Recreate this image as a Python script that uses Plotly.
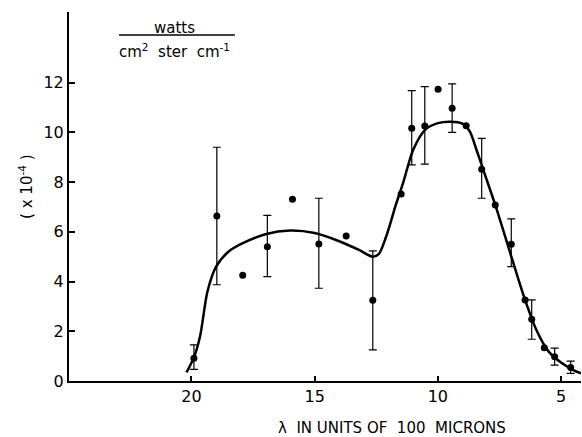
import plotly.graph_objects as go

# measured points: wavelength (x100 microns), flux (x1e-4)
wavelength = [19.9, 18.97, 17.92, 16.92, 15.9, 14.83, 13.72, 12.64, 11.49, 11.06, 10.53,
              9.99, 9.42, 8.85, 8.22, 7.67, 7.02, 6.46, 6.19, 5.68, 5.26, 4.61]
flux = [0.91, 6.64, 4.25, 5.40, 7.31, 5.51, 5.83, 3.25, 7.52, 10.16, 10.26,
        11.73, 10.97, 10.27, 8.52, 7.08, 5.50, 3.26, 2.48, 1.34, 0.98, 0.54]

# error bars (subset of points)
err_wavelength = [19.9, 18.97, 16.92, 14.83, 12.64, 11.06, 10.53, 9.42, 8.22, 7.02, 6.19, 5.26, 4.61]
err_center = [0.91, 6.64, 5.40, 5.51, 3.25, 10.16, 10.26, 10.97, 8.52, 5.50, 2.48, 0.98, 0.54]
err_top = [1.45, 9.40, 6.66, 7.35, 5.23, 11.68, 11.84, 11.95, 9.76, 6.52, 3.26, 1.32, 0.80]
err_bottom = [0.47, 3.87, 4.20, 3.73, 1.25, 8.69, 8.72, 10.00, 7.35, 4.60, 1.68, 0.64, 0.31]

# smooth fitted curve
curve_x = [20.2, 19.9, 19.65, 19.35, 19.0, 18.5, 18.0, 17.0, 16.0, 15.0, 14.0, 13.2, 12.65,
           12.4, 12.1, 11.7, 11.4, 11.0, 10.5, 10.0, 9.5, 9.0, 8.7, 8.45, 8.2, 7.67, 7.0,
           6.46, 6.0, 5.5, 5.0, 4.5, 4.19]
curve_y = [0.35, 0.95, 1.8, 3.6, 4.6, 5.2, 5.5, 5.9, 6.05, 5.95, 5.62, 5.27, 5.0,
           5.1, 5.8, 7.1, 8.0, 9.3, 10.12, 10.37, 10.43, 10.35, 10.03, 9.35, 8.62, 7.08, 4.95,
           3.26, 2.05, 1.18, 0.74, 0.44, 0.31]

x_ticks = [20, 15, 10, 5]
y_ticks = [0, 2, 4, 6, 8, 10, 12]

FONT = "DejaVu Sans"

plus = [t - c for t, c in zip(err_top, err_center)]
minus = [c - b for c, b in zip(err_center, err_bottom)]

fig = go.Figure()
fig.add_trace(go.Scatter(x=curve_x, y=curve_y, mode="lines",
                         line=dict(color="black", width=2.5, shape="spline", smoothing=0.8),
                         hoverinfo="skip"))
fig.add_trace(go.Scatter(x=err_wavelength, y=err_center, mode="markers",
                         marker=dict(size=0.1, color="black"),
                         error_y=dict(type="data", symmetric=False, array=plus, arrayminus=minus,
                                      color="black", thickness=1.2, width=4)))
fig.add_trace(go.Scatter(x=wavelength, y=flux, mode="markers",
                         marker=dict(size=7, color="black")))

fig.update_layout(
    width=582, height=437,
    margin=dict(l=69, r=1, t=12, b=56),
    paper_bgcolor="white", plot_bgcolor="white",
    showlegend=False,
    font=dict(family=FONT, color="black", size=15),
    xaxis=dict(range=[24.97, 4.19], tickvals=x_ticks, ticktext=[str(v) for v in x_ticks],
               ticks="inside", ticklen=5, tickwidth=1.5, tickcolor="black",
               showline=True, linecolor="black", linewidth=2, showgrid=False, zeroline=False,
               tickfont=dict(size=16, family=FONT)),
    yaxis=dict(range=[0, 14.84], tickvals=y_ticks, ticktext=[str(v) for v in y_ticks],
               ticks="inside", ticklen=6, tickwidth=1.5, tickcolor="black",
               showline=True, linecolor="black", linewidth=2, showgrid=False, zeroline=False,
               tickfont=dict(size=16, family=FONT)),
    shapes=[dict(type="line", xref="paper", yref="paper", x0=0.0977, x1=0.324,
                 y0=0.9377, y1=0.9377, line=dict(color="black", width=1.5))],
    annotations=[
        dict(text="watts", xref="paper", yref="paper", x=0.207, y=0.957, showarrow=False,
             xanchor="center", yanchor="middle", font=dict(size=15, family=FONT)),
        dict(text="cm<sup>2</sup>  ster  cm<sup>-1</sup>", xref="paper", yref="paper",
             x=0.207, y=0.893, showarrow=False, xanchor="center", yanchor="middle",
             font=dict(size=15, family=FONT)),
        dict(text="( x 10<sup>-4</sup> )", xref="paper", yref="paper", x=-0.084, y=0.526,
             textangle=-90, showarrow=False, xanchor="center", yanchor="middle",
             font=dict(size=15, family=FONT)),
        dict(text="λ  IN UNITS OF  100  MICRONS", xref="paper", yref="paper", x=0.631, y=-0.127,
             showarrow=False, xanchor="center", yanchor="middle", font=dict(size=15, family=FONT)),
    ],
)

fig.write_html("out.html", config={"displayModeBar": False},
               post_script="document.body.style.margin='0';document.body.style.padding='0';")
